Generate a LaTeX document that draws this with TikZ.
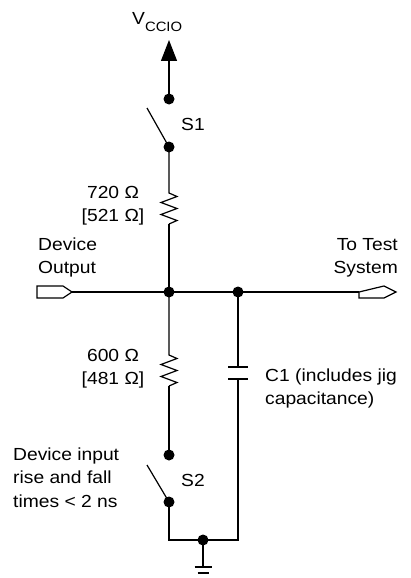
\documentclass[tikz,border=0pt]{standalone}
\usepackage{fontspec}
\setmainfont{Liberation Sans}[FakeStretch=1.1]
\usetikzlibrary{arrows.meta}

\tikzset{
    wire/.style={line width=1.2pt},
    dot/.style={circle, fill, inner sep=0pt, minimum size=11pt},
    lbl/.style={font=\fontsize{17.5}{23.5}\selectfont, inner sep=0pt},
}

\begin{document}
\begin{tikzpicture}[x=1pt,y=-1pt]
    \useasboundingbox (0,0) rectangle (411,578);

    % supply and S1
    \node[lbl, anchor=base west] (vccio) at (132,25) {V\raisebox{-7pt}{\fontsize{13.5}{14}\selectfont CCIO}};
    \coordinate (vtip) at (169,40);
    \node[dot] (s1top) at (169,99) {};
    \node[dot] (s1bot) at (169,147) {};
    \coordinate (s1arm) at (147,108);
    \draw[wire, -{Triangle[length=21pt,width=16pt]}] (s1top.center) -- (vtip);
    \draw[wire] (s1bot.center) -- (s1arm);
    \node[lbl] (s1) at (193,124) {S1};

    % upper resistor
    \coordinate (r1top) at (169,193);
    \draw[wire] (s1bot.center) -- (r1top) -- ++(8,3.5) -- ++(-16,6) -- ++(16,6)
        -- ++(-16,6) -- ++(16,6) -- ++(-8,3.5) coordinate (r1bot);
    \node[lbl, anchor=base] (r1a) at (113,198) {720 Ω};
    \node[lbl, anchor=base] (r1b) at (113,221) {[521 Ω]};

    % output line
    \node[dot] (jmain) at (169,292) {};
    \node[dot] (jcap) at (238,292) {};
    \coordinate (inport) at (72,292);
    \coordinate (outport) at (359,292);
    \draw[wire] (37,286) -- (63,286) -- (inport) -- (63,298) -- (37,298) -- cycle;
    \draw[wire] (outport) -- (384,286) -- (396,292) -- (384,298) -- (359,298) -- cycle;
    \draw[wire] (inport) -- (jmain.center) -- (jcap.center) -- (outport);
    \draw[wire] (r1bot) -- (jmain.center);

    \node[lbl, anchor=base west] (out1) at (38,250) {Device};
    \node[lbl, anchor=base west] (out2) at (38,273) {Output};
    \node[lbl, anchor=base east] (sys1) at (398,250) {To Test};
    \node[lbl, anchor=base east] (sys2) at (398,273) {System};

    % lower resistor
    \coordinate (r2top) at (169,355);
    \draw[wire] (jmain.center) -- (r2top) -- ++(8,3.5) -- ++(-16,6) -- ++(16,6)
        -- ++(-16,6) -- ++(16,6) -- ++(-8,3.5) coordinate (r2bot);
    \node[lbl, anchor=base] (r2a) at (113,361) {600 Ω};
    \node[lbl, anchor=base] (r2b) at (113,384) {[481 Ω]};

    % capacitor
    \coordinate (c1a) at (238,367);
    \coordinate (c1b) at (238,379);
    \draw[wire] (jcap.center) -- (c1a);
    \draw[wire] ([xshift=-10pt]c1a) -- ([xshift=10pt]c1a);
    \draw[wire] ([xshift=-10pt]c1b) -- ([xshift=10pt]c1b);
    \node[lbl, anchor=base west] (c1l1) at (265,381) {C1 (includes jig};
    \node[lbl, anchor=base west] (c1l2) at (265,404) {capacitance)};

    % S2 and ground
    \node[dot] (s2top) at (169,455) {};
    \node[dot] (s2bot) at (169,502) {};
    \coordinate (s2arm) at (147,465);
    \draw[wire] (r2bot) -- (s2top.center);
    \draw[wire] (s2bot.center) -- (s2arm);
    \node[lbl] (s2) at (193,480) {S2};

    \coordinate (botleft) at (169,540);
    \coordinate (botright) at (238,540);
    \node[dot] (gnd) at (203,540) {};
    \coordinate (gndtop) at (203,567);
    \draw[wire] (s2bot.center) -- (botleft) -- (botright) -- (c1b);
    \draw[wire] (gnd.center) -- (gndtop);
    \draw[wire] ([xshift=-8.5pt]gndtop) -- ([xshift=8.5pt]gndtop);
    \draw[wire] ([shift={(-5.5pt,-6pt)}]gndtop) -- ([shift={(5.5pt,-6pt)}]gndtop);
    \draw[wire] ([shift={(-2.5pt,-12pt)}]gndtop) -- ([shift={(2.5pt,-12pt)}]gndtop);

    \node[lbl, anchor=base west] (rise1) at (13,460) {Device input};
    \node[lbl, anchor=base west] (rise2) at (13,483) {rise and fall};
    \node[lbl, anchor=base west] (rise3) at (13,507) {times < 2 ns};

\end{tikzpicture}
\end{document}
